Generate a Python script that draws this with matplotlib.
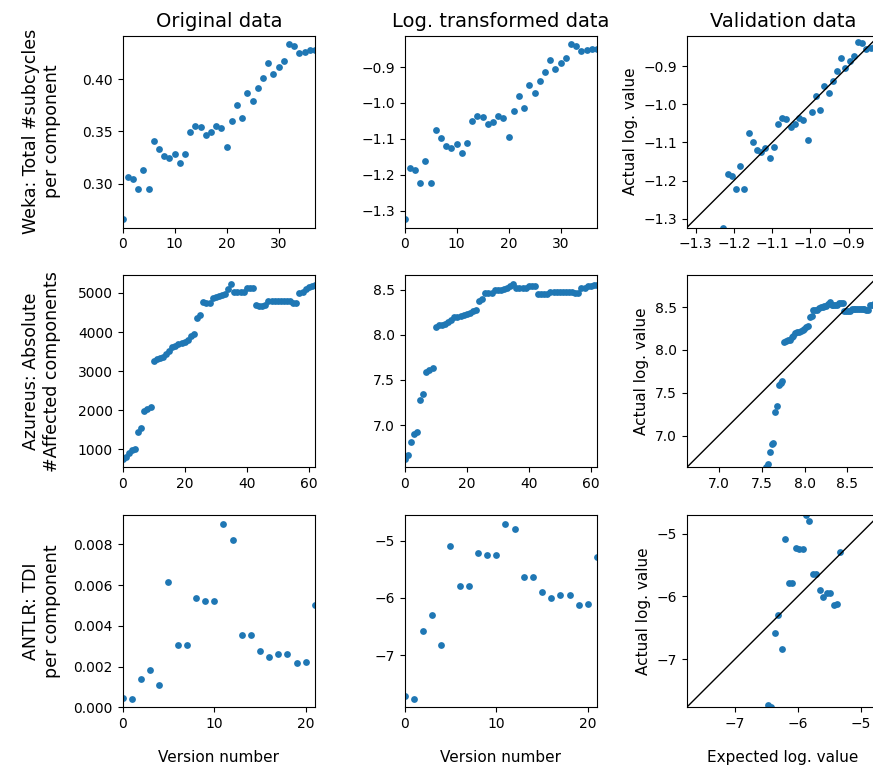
import numpy as np
import matplotlib
matplotlib.use('Agg')
import matplotlib.pyplot as plt


col_titles = ['Original data', 'Log. transformed data', 'Validation data']
row_labels = ['Weka: Total #subcycles\nper component',
              'Azureus: Absolute\n#Affected components',
              'ANTLR: TDI\nper component']

# Original values per version
weka = [0.2662, 0.3067, 0.3048, 0.2946, 0.3127, 0.2946, 0.3408, 0.3334,
        0.3261, 0.3242, 0.3283, 0.3197, 0.3287, 0.3497, 0.3551, 0.3541,
        0.3468, 0.3490, 0.3551, 0.3532, 0.3347, 0.3602, 0.3755, 0.3627,
        0.3863, 0.3787, 0.3914, 0.4013, 0.4150, 0.4045, 0.4115, 0.4172,
        0.4331, 0.4315, 0.4252, 0.4261, 0.4280, 0.4280]

azureus = [755, 790, 905, 990, 1010, 1440, 1550, 1975, 2025, 2075,
           3255, 3310, 3325, 3350, 3445, 3510, 3615, 3650, 3685, 3710,
           3750, 3785, 3895, 3940, 4350, 4440, 4760, 4745, 4750, 4880,
           4905, 4915, 4955, 4985, 5095, 5225, 5030, 5030, 5025, 5030,
           5125, 5135, 5125, 4685, 4670, 4670, 4700, 4790, 4795, 4795,
           4800, 4805, 4805, 4800, 4800, 4755, 4750, 5010, 5015, 5110,
           5145, 5180, 5200]

antlr = [0.000443, 0.000426, 0.001377, 0.001836, 0.001082, 0.006164,
         0.003049, 0.003049, 0.005377, 0.005230, 0.005230, 0.009000,
         0.008213, 0.003541, 0.003541, 0.002738, 0.002475, 0.002623,
         0.002623, 0.002180, 0.002213, 0.005016]

datasets = [weka, azureus, antlr]

plt.rcParams['font.family'] = 'DejaVu Sans'
plt.rcParams['font.size'] = 10

blue = '#1f77b4'
msize = 24

fig, axes = plt.subplots(3, 3, figsize=(8.73, 7.74), dpi=100)
fig.subplots_adjust(left=0.1405, right=1.0069, top=0.9539, bottom=0.0862,
                    wspace=0.4665, hspace=0.249)

for i, vals in enumerate(datasets):
    vals = np.array(vals)
    version = np.arange(len(vals))
    logv = np.log(vals)
    # expected values: linear fit of the log-transformed data
    slope, icpt = np.polyfit(version, logv, 1)
    expected = icpt + slope * version

    # original data
    ax = axes[i, 0]
    ax.scatter(version, vals, s=msize, color=blue, linewidths=0)
    ax.set_xlim(0, len(vals) - 1)
    ax.set_ylabel(row_labels[i], fontsize=12.5)
    ax.yaxis.set_label_coords(-0.32, 0.5)

    # log transformed data
    ax = axes[i, 1]
    ax.scatter(version, logv, s=msize, color=blue, linewidths=0)
    ax.set_xlim(0, len(vals) - 1)

    # validation data
    ax = axes[i, 2]
    ax.scatter(expected, logv, s=msize, color=blue, linewidths=0)
    lo = min(expected.min(), logv.min())
    hi = max(expected.max(), logv.max())
    ax.plot([lo, hi], [lo, hi], color='k', lw=1)
    ax.set_ylim(lo, hi)
    ax.set_xticks(ax.get_yticks())
    ax.set_xlim(lo, hi)
    ax.set_ylim(lo, hi)
    ax.set_ylabel('Actual log. value', fontsize=11)

    for ax in axes[i]:
        ax.tick_params(labelsize=10)

for j, t in enumerate(col_titles):
    axes[0, j].set_title(t, fontsize=14, pad=6)

axes[2, 0].set_xlabel('Version number', fontsize=11, labelpad=14)
axes[2, 1].set_xlabel('Version number', fontsize=11, labelpad=14)
axes[2, 2].set_xlabel('Expected log. value', fontsize=11, labelpad=14)

fig.savefig('out.png', dpi=100)
